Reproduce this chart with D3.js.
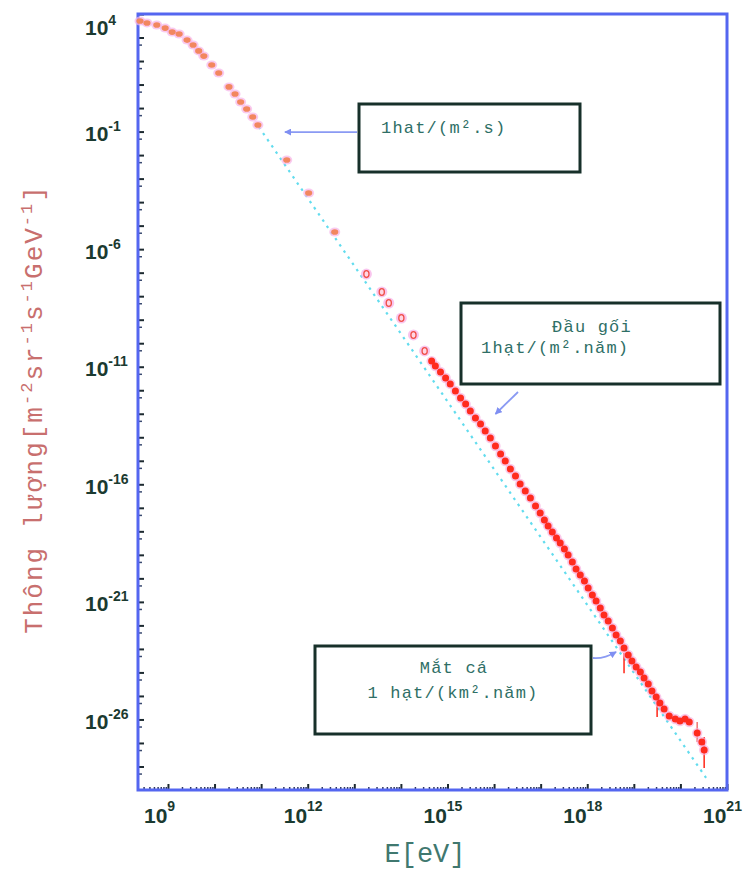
<!DOCTYPE html>
<html>
<head>
<meta charset="utf-8">
<script src="https://cdn.jsdelivr.net/npm/d3@7"></script>
<style>
  html, body { margin: 0; padding: 0; background: #ffffff; }
  svg { display: block; }
</style>
</head>
<body>
<svg id="chart" width="748" height="869"></svg>
<script>
// Cosmic-ray flux spectrum. Energies and fluxes are stored as log10 values.

// Low-energy measurements (direct, GeV range)
const lowLogE = [8.40, 8.55, 8.76, 8.94, 9.09, 9.24, 9.41, 9.54, 9.66, 9.77, 9.94, 10.09,
                 10.31, 10.44, 10.56, 10.69, 10.82, 10.93, 11.55, 12.02, 12.58];
const lowLogF = [3.70, 3.62, 3.53, 3.40, 3.23, 3.15, 2.89, 2.68, 2.43, 2.21, 1.83, 1.49,
                 0.90, 0.60, 0.26, -0.04, -0.38, -0.72, -2.21, -3.61, -5.27];

// Intermediate-energy measurements
const midLogE = [13.26, 13.59, 13.74, 14.01, 14.27, 14.51];
const midLogF = [-7.06, -7.82, -8.29, -8.93, -9.65, -10.33];

// Air-shower measurements (knee to ankle and beyond)
const highLogE = [14.66, 14.74, 14.85, 14.96, 15.06, 15.17, 15.28, 15.39, 15.49, 15.60,
                  15.71, 15.81, 15.92, 16.03, 16.14, 16.24, 16.35, 16.46, 16.56, 16.67,
                  16.78, 16.89, 16.99, 17.08, 17.16, 17.25, 17.34, 17.42, 17.51, 17.59,
                  17.68, 17.76, 17.85, 17.94, 18.02, 18.11, 18.19, 18.28, 18.36, 18.45,
                  18.54, 18.62, 18.71, 18.79, 18.88, 18.96, 19.05, 19.14, 19.22, 19.31,
                  19.39, 19.48, 19.56, 19.65, 19.76, 19.89, 19.99, 20.10, 20.19, 20.36,
                  20.46, 20.51];
const highLogF = [-10.76, -10.97, -11.22, -11.48, -11.73, -12.03, -12.33, -12.59, -12.88, -13.18,
                  -13.44, -13.73, -14.03, -14.37, -14.71, -15.01, -15.35, -15.65, -15.99, -16.29,
                  -16.58, -16.92, -17.22, -17.52, -17.77, -18.03, -18.28, -18.50, -18.75, -19.01,
                  -19.30, -19.60, -19.86, -20.11, -20.41, -20.71, -20.96, -21.26, -21.56, -21.81,
                  -22.11, -22.41, -22.66, -22.96, -23.26, -23.51, -23.77, -23.98, -24.24, -24.49,
                  -24.79, -25.05, -25.30, -25.56, -25.85, -25.98, -26.07, -25.98, -26.11, -26.58,
                  -26.96, -27.30];

// Vertical error bars at the highest energies
const errLogE  = [18.79, 19.50, 20.36, 20.51];
const errLogLo = [-24.03, -25.90, -26.96, -28.06];
const errLogHi = [-23.17, -25.17, -26.11, -26.75];

// Reference power law (two end points of the straight line in log-log)
const refLogE = [10.95, 20.55];
const refLogF = [-0.80, -28.48];

// Axis labels (exponents of 10)
const xTickExps = [9, 12, 15, 18, 21];
const yTickExps = [4, -1, -6, -11, -16, -21, -26];

// Annotation arrows point at these (logE, logF) locations
const noteLogE = [11.51, 16.03, 18.62];
const noteLogF = [-1.02, -13.01, -23.13];

const svg = d3.select("#chart");
const plot = { left: 138, right: 727, top: 14, bottom: 790 };

const x = d3.scaleLog().domain([Math.pow(10, 8.357), 1e21]).range([plot.left, plot.right]);
const y = d3.scaleLog().domain([1e-29, 1e4]).range([plot.bottom, plot.top]);
const px = e => x(Math.pow(10, e));
const py = f => y(Math.pow(10, f));

// ---- tick marks ----
const xMajors = d3.range(9, 22).map(e => Math.pow(10, e));
const xMinors = [];
d3.range(8, 21).forEach(e => d3.range(2, 10).forEach(k => {
  const v = k * Math.pow(10, e);
  if (v > x.domain()[0] && v < 1e21) xMinors.push(v);
}));
const yMajors = d3.range(-28, 5).map(e => Math.pow(10, e));
const yMinors = d3.range(-29, 4).map(e => 5 * Math.pow(10, e));

const gx = svg.append("g").attr("transform", `translate(0,${plot.bottom})`);
gx.append("g").call(d3.axisBottom(x).tickValues(xMinors).tickSize(-3).tickFormat(""))
  .call(g => g.select(".domain").remove())
  .call(g => g.selectAll("line").attr("stroke", "#2c3560").attr("stroke-width", 1.5));
gx.append("g").call(d3.axisBottom(x).tickValues(xMajors).tickSize(-6).tickFormat(""))
  .call(g => g.select(".domain").remove())
  .call(g => g.selectAll("line").attr("stroke", "#1d2a30").attr("stroke-width", 2));

const gy = svg.append("g").attr("transform", `translate(${plot.left},0)`);
gy.append("g").call(d3.axisLeft(y).tickValues(yMinors).tickSize(-4).tickFormat(""))
  .call(g => g.select(".domain").remove())
  .call(g => g.selectAll("line").attr("stroke", "#3a4a70").attr("stroke-width", 1.5));
gy.append("g").call(d3.axisLeft(y).tickValues(yMajors).tickSize(-6).tickFormat(""))
  .call(g => g.select(".domain").remove())
  .call(g => g.selectAll("line").attr("stroke", "#1d2a30").attr("stroke-width", 2));

// ---- frame ----
svg.append("rect")
  .attr("x", plot.left).attr("y", plot.top)
  .attr("width", plot.right - plot.left).attr("height", plot.bottom - plot.top)
  .attr("fill", "none").attr("stroke", "#5466f0").attr("stroke-width", 3);

// ---- tick labels ----
const labelFont = "'Liberation Sans', Arial, sans-serif";
const yl = svg.append("g").attr("font-family", labelFont).attr("font-weight", "bold")
  .attr("fill", "#1b3a30");
yTickExps.forEach(e => {
  const t = yl.append("text")
    .attr("x", 85)
    .attr("y", py(e) + 9.5 + (e === 4 ? 11 : 0))
    .attr("font-size", 21).text("10");
  t.append("tspan").attr("dy", -10).attr("font-size", 14).text(e);
});
const xl = svg.append("g").attr("font-family", labelFont).attr("font-weight", "bold")
  .attr("fill", "#1b3a30");
xTickExps.forEach(e => {
  const t = xl.append("text")
    .attr("x", px(e) - 24)
    .attr("y", 823)
    .attr("font-size", 21).text("10");
  t.append("tspan").attr("dy", -12).attr("font-size", 14).text(e);
});

// ---- axis titles ----
const mono = "'Liberation Mono', 'DejaVu Sans Mono', monospace";
const yt = svg.append("text")
  .attr("transform", "translate(42,409) rotate(-90)")
  .attr("text-anchor", "middle")
  .attr("font-family", mono).attr("font-size", 26)
  .attr("letter-spacing", 2)
  .attr("fill", "#c86f6e");
yt.append("tspan").text("Thông lượng[m");
yt.append("tspan").attr("dy", -10).attr("font-size", 17).text("-2");
yt.append("tspan").attr("dy", 10).text("sr");
yt.append("tspan").attr("dy", -10).attr("font-size", 17).text("-1");
yt.append("tspan").attr("dy", 10).text("s");
yt.append("tspan").attr("dy", -10).attr("font-size", 17).text("-1");
yt.append("tspan").attr("dy", 10).text("GeV");
yt.append("tspan").attr("dy", -10).attr("font-size", 17).text("-1");
yt.append("tspan").attr("dy", 10).text("]");

svg.append("text")
  .attr("x", 425).attr("y", 862)
  .attr("text-anchor", "middle")
  .attr("font-family", mono).attr("font-size", 27)
  .attr("fill", "#40786f")
  .text("E[eV]");

// ---- reference power law ----
const line = d3.line().x(d => px(d[0])).y(d => py(d[1]));
svg.append("path")
  .datum(refLogE.map((e, i) => [e, refLogF[i]]))
  .attr("d", line)
  .attr("fill", "none")
  .attr("stroke", "#62dcee")
  .attr("stroke-width", 2.2)
  .attr("stroke-dasharray", "2.5,5");

// ---- data points ----
const lowPts = lowLogE.map((e, i) => [e, lowLogF[i]]);
const midPts = midLogE.map((e, i) => [e, midLogF[i]]);
const highPts = highLogE.map((e, i) => [e, highLogF[i]]);

// error bars
const errG = svg.append("g");
errLogE.forEach((e, i) => {
  errG.append("line")
    .attr("x1", px(e)).attr("x2", px(e))
    .attr("y1", py(errLogLo[i])).attr("y2", py(errLogHi[i]))
    .attr("stroke", i === 2 ? "#f07a7a" : "#ff3325")
    .attr("stroke-width", 1.6);
});

// soft halos
svg.append("g").selectAll("ellipse").data(lowPts).join("ellipse")
  .attr("cx", d => px(d[0])).attr("cy", d => py(d[1]))
  .attr("rx", 5.5).attr("ry", 4.5).attr("fill", "#f6b4ea").attr("opacity", 0.7);
svg.append("g").selectAll("circle").data(midPts).join("circle")
  .attr("cx", d => px(d[0])).attr("cy", d => py(d[1]))
  .attr("r", 5.5).attr("fill", "#f7b6ea").attr("opacity", 0.8);
svg.append("g").selectAll("circle").data(highPts).join("circle")
  .attr("cx", d => px(d[0])).attr("cy", d => py(d[1]))
  .attr("r", 5.2).attr("fill", "#f7aede").attr("opacity", 0.65);

// point cores
svg.append("g").selectAll("ellipse").data(lowPts).join("ellipse")
  .attr("cx", d => px(d[0])).attr("cy", d => py(d[1]))
  .attr("rx", 3.6).attr("ry", 2.8).attr("fill", "#f2875f");
svg.append("g").selectAll("ellipse").data(midPts).join("ellipse")
  .attr("cx", d => px(d[0])).attr("cy", d => py(d[1]))
  .attr("rx", 2.6).attr("ry", 3.4)
  .attr("fill", "#ffd6e4").attr("stroke", "#f0504a").attr("stroke-width", 1.3);
svg.append("g").selectAll("circle").data(highPts).join("circle")
  .attr("cx", d => px(d[0])).attr("cy", d => py(d[1]))
  .attr("r", 3.5).attr("fill", "#ff2b1e");

// ---- annotation boxes ----
const boxFont = mono;
const boxColor = "#2f6f66";
function noteBox(bx, by, bw, bh, lines) {
  const g = svg.append("g");
  g.append("rect").attr("x", bx).attr("y", by).attr("width", bw).attr("height", bh)
    .attr("fill", "#ffffff").attr("stroke", "#17302a").attr("stroke-width", 3);
  lines.forEach(l => {
    g.append("text")
      .attr("x", l.x).attr("y", l.y)
      .attr("text-anchor", l.anchor || "start")
      .attr("font-family", boxFont).attr("font-size", 17)
      .attr("letter-spacing", 1.2)
      .attr("fill", boxColor)
      .text(l.t);
  });
}
noteBox(359, 104, 221, 68, [{ x: 381, y: 133, t: "1hat/(m².s)" }]);
noteBox(461, 303, 259, 81, [
  { x: 592, y: 332, t: "Đầu gối", anchor: "middle" },
  { x: 481, y: 353, t: "1hạt/(m².năm)" }
]);
noteBox(315, 646, 276, 88, [
  { x: 454, y: 673, t: "Mắt cá", anchor: "middle" },
  { x: 453, y: 698, t: "1 hạt/(km².năm)", anchor: "middle" }
]);

// ---- arrows ----
const defs = svg.append("defs");
defs.append("marker")
  .attr("id", "head").attr("viewBox", "0 0 10 10")
  .attr("refX", 9).attr("refY", 5)
  .attr("markerWidth", 7).attr("markerHeight", 7)
  .attr("markerUnits", "userSpaceOnUse")
  .attr("orient", "auto")
  .append("path").attr("d", "M0,0 L10,5 L0,10 Z").attr("fill", "#7f8ff2");

const arrowColor = "#8a9af3";
const tips = noteLogE.map((e, i) => [px(e), py(noteLogF[i])]);
svg.append("path")
  .attr("d", `M357,${tips[0][1]} L${tips[0][0]},${tips[0][1]}`)
  .attr("stroke", arrowColor).attr("stroke-width", 1.8).attr("fill", "none")
  .attr("marker-end", "url(#head)");
svg.append("path")
  .attr("d", `M518,392 L${tips[1][0]},${tips[1][1]}`)
  .attr("stroke", arrowColor).attr("stroke-width", 1.8).attr("fill", "none")
  .attr("marker-end", "url(#head)");
svg.append("path")
  .attr("d", `M593,658 Q604,659 ${tips[2][0]},${tips[2][1]}`)
  .attr("stroke", arrowColor).attr("stroke-width", 1.8).attr("fill", "none")
  .attr("marker-end", "url(#head)");
</script>
</body>
</html>
